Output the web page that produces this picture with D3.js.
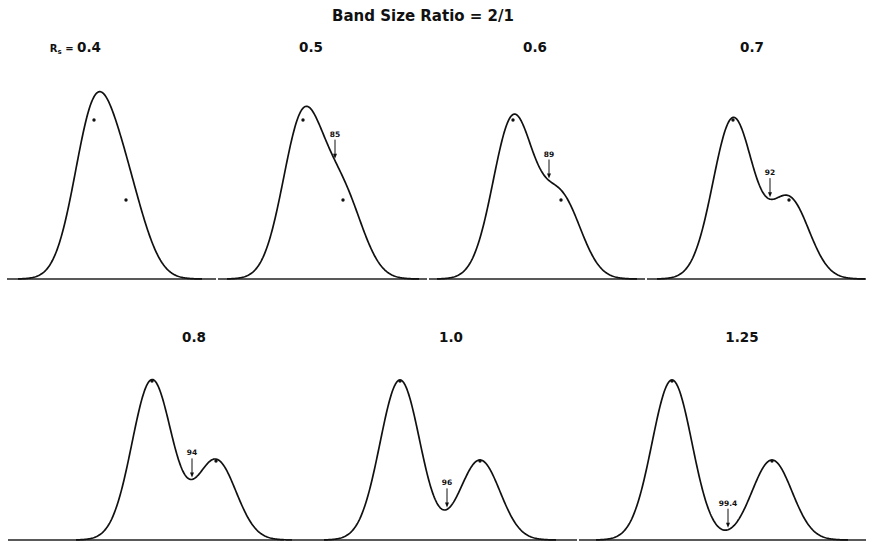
<!DOCTYPE html>
<html>
<head>
<meta charset="utf-8">
<style>
    body { margin: 0; background: #fff; }
    svg { display: block; font-family: "DejaVu Sans", Arial, sans-serif; }
    .curve { fill: none; stroke: #111; stroke-width: 1.7; stroke-linejoin: round; }
    .base { stroke: #222; stroke-width: 1.5; }
    .title { font-size: 15px; font-weight: bold; fill: #111; }
    .rs { font-size: 13.5px; font-weight: bold; fill: #111; }
    .pur { font-size: 7.5px; font-weight: bold; fill: #111; }
    .arrow { stroke: #111; stroke-width: 1; }
</style>
</head>
<body>
<div id="chart"></div>
<script src="https://d3js.org/d3.v7.min.js"></script>
<script>
// resolution of each panel
const rsValues = [0.4, 0.5, 0.6, 0.7, 0.8, 1.0, 1.25];
const rsLabels = ["0.4", "0.5", "0.6", "0.7", "0.8", "1.0", "1.25"];
// band 1 : band 2 size, same width
const sizeRatio = 2;
// purity marks (%), and where the arrow points, in sigma from band 1
const purity = [null, "85", "89", "92", "94", "96", "99.4"];
const purityAt = [null, 1.6, 1.8, 1.85, 2.0, 2.35, 2.8];

// layout
const width = 869, height = 544;
const sigmaPx = 20, unitPx = 160;
const rowBase = [279, 540];
const rowLabelY = [52, 342];
const panelRow = [0, 0, 0, 0, 1, 1, 1];
const peakX = [94, 303, 513, 733, 152, 400, 672];
const labelX = [88, 311, 535, 752, 194, 451, 742];
const edges = [[7, 216], [218, 427], [429, 645], [647, 866], [8, 284], [286, 577], [579, 866]];

const svg = d3.select("#chart").append("svg")
    .attr("width", width)
    .attr("height", height);

svg.append("text")
    .attr("class", "title")
    .attr("x", 423)
    .attr("y", 21)
    .attr("text-anchor", "middle")
    .text("Band Size Ratio = 2/1");

function gauss(x, mu) {
    return Math.exp(-(x - mu) * (x - mu) / 2);
}

rsValues.forEach(function (rs, i) {
    const sep = 4 * rs;            // peak distance in sigma
    const h2 = 1 / sizeRatio;
    const f = x => gauss(x, 0) + h2 * gauss(x, sep);

    const x = d3.scaleLinear().domain([0, 1]).range([peakX[i], peakX[i] + sigmaPx]);
    const base = rowBase[panelRow[i]];
    const y = d3.scaleLinear().domain([0, 1]).range([base, base - unitPx]);

    const g = svg.append("g");

    g.append("line")
        .attr("class", "base")
        .attr("x1", edges[i][0]).attr("x2", edges[i][1])
        .attr("y1", base).attr("y2", base);

    const pts = d3.range(-3.8, sep + 3.8001, 0.04);
    g.append("path")
        .datum(pts)
        .attr("class", "curve")
        .attr("d", d3.line().x(d => x(d)).y(d => y(f(d))));

    // band maxima
    g.selectAll("circle")
        .data([[0, 1], [sep, h2]])
        .join("circle")
        .attr("cx", d => x(d[0]))
        .attr("cy", d => y(d[1]) + 1)
        .attr("r", 1.7)
        .attr("fill", "#111");

    // panel label
    const lab = g.append("text")
        .attr("class", "rs")
        .attr("x", labelX[i])
        .attr("y", rowLabelY[panelRow[i]])
        .attr("text-anchor", "middle");
    if (i === 0) {
        lab.attr("text-anchor", "end").attr("x", 101);
        lab.append("tspan").style("font-size", "10px").text("R");
        lab.append("tspan").style("font-size", "7px").attr("dy", 2).text("s");
        lab.append("tspan").style("font-size", "10px").attr("dy", -2).text(" = ");
        lab.append("tspan").text(rsLabels[i]);
    } else {
        lab.text(rsLabels[i]);
    }

    // purity arrow
    if (purity[i]) {
        const ax = x(purityAt[i]);
        const tip = y(f(purityAt[i])) - 2;
        g.append("line")
            .attr("class", "arrow")
            .attr("x1", ax).attr("x2", ax)
            .attr("y1", tip - 19).attr("y2", tip - 3);
        g.append("path")
            .attr("d", d3.line()([[ax - 2, tip - 5], [ax + 2, tip - 5], [ax, tip]]))
            .attr("fill", "#111");
        g.append("text")
            .attr("class", "pur")
            .attr("x", ax)
            .attr("y", tip - 22)
            .attr("text-anchor", "middle")
            .text(purity[i]);
    }
});
</script>
</body>
</html>
